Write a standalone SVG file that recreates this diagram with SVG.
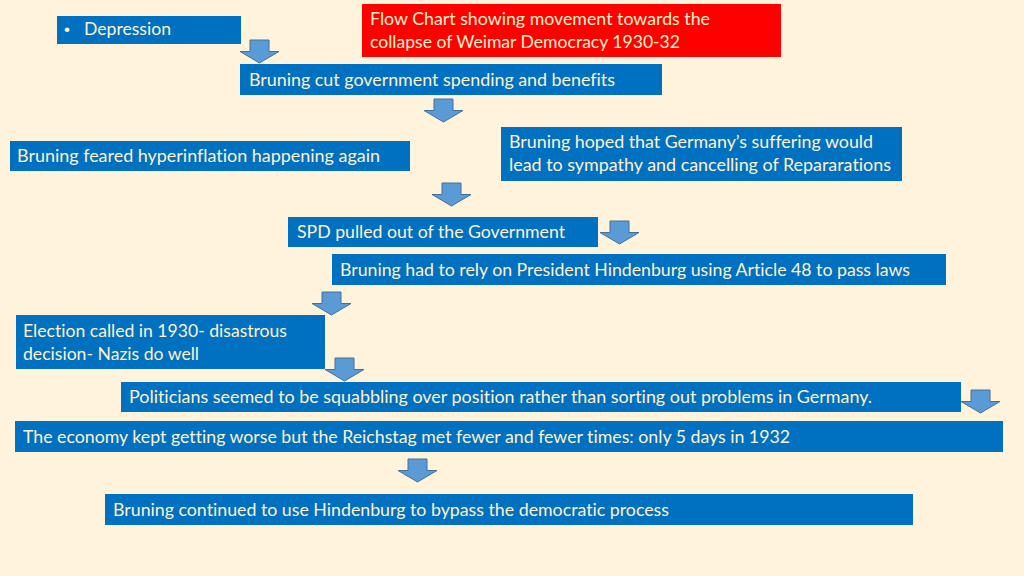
<svg xmlns="http://www.w3.org/2000/svg" xmlns:xlink="http://www.w3.org/1999/xlink" width="1024" height="576" viewBox="0 0 1024 576">
<style>
.box{fill:#0070C0}
.title{fill:#FF0000}
.t{font-family:Lato,"Open Sans","Liberation Sans",sans-serif;font-size:17px;fill:#FFF2CC;font-variant-ligatures:none}
.bul{font-family:"Liberation Sans",sans-serif;font-size:17px;fill:#FFF2CC}
.arr{fill:#5B9BD5;stroke:#41719C;stroke-width:1}
</style>
<defs>
<path id="dn" d="M10,0 H29 V11.5 H39 L19.5,23 L0,11.5 H10 Z"/>
</defs>
<rect width="1024" height="576" fill="#FFF3DC"/>
<g id="title">
<rect class="title" x="362" y="4" width="419" height="53"/>
<text class="t" x="370" y="25" textLength="340" lengthAdjust="spacingAndGlyphs">Flow Chart showing movement towards the</text>
<text class="t" x="370" y="48" textLength="310" lengthAdjust="spacingAndGlyphs">collapse of Weimar Democracy 1930-32</text>
</g>
<g id="depression">
<rect class="box" x="57" y="16" width="184" height="28"/>
<text class="bul" x="64" y="35">•</text>
<text class="t" x="84" y="35" textLength="87" lengthAdjust="spacingAndGlyphs">Depression</text>
</g>
<g id="cut">
<rect class="box" x="240" y="64" width="422" height="31"/>
<text class="t" x="249" y="86" textLength="366" lengthAdjust="spacingAndGlyphs">Bruning cut government spending and benefits</text>
</g>
<g id="feared">
<rect class="box" x="10" y="141" width="400" height="30"/>
<text class="t" x="17" y="162" textLength="363" lengthAdjust="spacingAndGlyphs">Bruning feared hyperinflation happening again</text>
</g>
<g id="hoped">
<rect class="box" x="501" y="127" width="401" height="54"/>
<text class="t" x="509" y="148" textLength="364" lengthAdjust="spacingAndGlyphs">Bruning hoped that Germany’s suffering would</text>
<text class="t" x="509" y="171" textLength="382" lengthAdjust="spacingAndGlyphs">lead to sympathy and cancelling of Repararations</text>
</g>
<g id="spd">
<rect class="box" x="288" y="217" width="310" height="30"/>
<text class="t" x="297" y="238" textLength="268" lengthAdjust="spacingAndGlyphs">SPD pulled out of the Government</text>
</g>
<g id="article48">
<rect class="box" x="332" y="254" width="614" height="31"/>
<text class="t" x="340" y="276" textLength="570" lengthAdjust="spacingAndGlyphs">Bruning had to rely on President Hindenburg using Article 48 to pass laws</text>
</g>
<g id="election">
<rect class="box" x="16" y="315" width="309" height="54"/>
<text class="t" x="23" y="337" textLength="264" lengthAdjust="spacingAndGlyphs">Election called in 1930- disastrous</text>
<text class="t" x="23" y="360" textLength="176" lengthAdjust="spacingAndGlyphs">decision- Nazis do well</text>
</g>
<g id="politicians">
<rect class="box" x="121" y="382" width="840" height="30"/>
<text class="t" x="129" y="403" textLength="743" lengthAdjust="spacingAndGlyphs">Politicians seemed to be squabbling over position rather than sorting out problems in Germany.</text>
</g>
<g id="economy">
<rect class="box" x="15" y="421" width="988" height="31"/>
<text class="t" x="23" y="443" textLength="767" lengthAdjust="spacingAndGlyphs">The economy kept getting worse but the Reichstag met fewer and fewer times: only 5 days in 1932</text>
</g>
<g id="bypass">
<rect class="box" x="105" y="494" width="808" height="31"/>
<text class="t" x="113" y="516" textLength="556" lengthAdjust="spacingAndGlyphs">Bruning continued to use Hindenburg to bypass the democratic process</text>
</g>
<g id="connectors">
<use class="arr" xlink:href="#dn" x="240" y="40"/>
<use class="arr" xlink:href="#dn" x="424" y="99"/>
<use class="arr" xlink:href="#dn" x="432" y="183"/>
<use class="arr" xlink:href="#dn" x="600" y="221"/>
<use class="arr" xlink:href="#dn" x="312" y="292"/>
<use class="arr" xlink:href="#dn" x="325" y="358"/>
<use class="arr" xlink:href="#dn" x="961" y="390"/>
<use class="arr" xlink:href="#dn" x="398" y="459"/>
</g>
</svg>
